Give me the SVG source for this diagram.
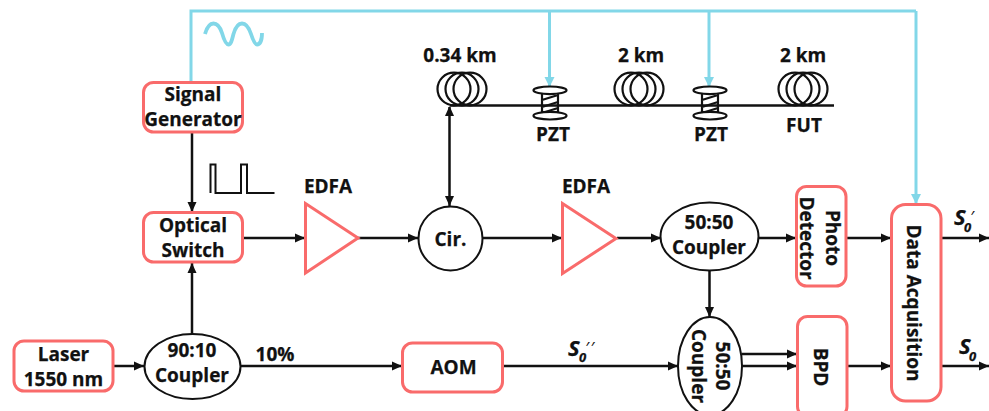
<svg xmlns="http://www.w3.org/2000/svg" width="989" height="411" viewBox="0 0 989 411">
<style>
text{font-family:"Open Sans","Liberation Sans",sans-serif;font-weight:700;font-size:19px;fill:#111;stroke:#111;stroke-width:.25;text-anchor:middle}
.box{fill:#fff;stroke:#f96b6b;stroke-width:3}
.circ{fill:#fff;stroke:#111;stroke-width:2}
.ln{fill:none;stroke:#111;stroke-width:2.5}
.arr{marker-end:url(#a)}
.blue{fill:none;stroke:#82d7e8;stroke-width:3}
.coil{fill:none;stroke:#111;stroke-width:2.2}
.sub{font-style:italic;font-size:13px;text-anchor:start}
.s{font-style:italic;font-size:22px;text-anchor:start}
.pr{font-style:italic;font-size:17px;font-weight:400;stroke:none;text-anchor:start;letter-spacing:1.5px}
</style>
<defs>
<marker id="a" markerUnits="userSpaceOnUse" markerWidth="11" markerHeight="11" refX="10" refY="5.500" orient="auto"><path d="M0 1L10 5.500L0 10z" fill="#111"/></marker>
<marker id="as" markerUnits="userSpaceOnUse" markerWidth="11" markerHeight="11" refX="1" refY="5.500" orient="auto"><path d="M10 1L0 5.500L10 10z" fill="#111"/></marker>
<marker id="b" markerUnits="userSpaceOnUse" markerWidth="11" markerHeight="11" refX="10" refY="5.500" orient="auto"><path d="M0 0.500L10 5.500L0 10.500z" fill="#82d7e8"/></marker>
<g id="coilshape" class="coil"><ellipse cx="-8" cy="0" rx="16.500" ry="16.300"/><ellipse cx="0" cy="0" rx="16.500" ry="16.300"/><ellipse cx="8" cy="0" rx="16.500" ry="16.300"/></g>
<g id="spool"><path d="M-8-9V9.500M8-9V9.500M-8-3L8-8M-8 4L8-1M-8 10L8 5" fill="none" stroke="#111" stroke-width="2.200"/><ellipse cx="0" cy="-12.700" rx="16.500" ry="3.800" fill="#fff" stroke="#111" stroke-width="2.200"/><ellipse cx="0" cy="12.700" rx="16.500" ry="3.800" fill="#fff" stroke="#111" stroke-width="2.200"/></g>
</defs>
<g id="connectors">
<path class="blue" d="M191 82V11H916"/>
<path class="blue" d="M549.500 11V87" marker-end="url(#b)"/>
<path class="blue" d="M709 11V87" marker-end="url(#b)"/>
<path class="blue" d="M916 11V204" marker-end="url(#b)"/>
<path class="ln arr" d="M192 132V212"/>
<path class="ln arr" d="M192 334V263"/>
<path class="ln arr" d="M113 366H144"/>
<path class="ln arr" d="M241 366H402"/>
<path class="ln arr" d="M503 366H678"/>
<path class="ln arr" d="M243 238H305"/>
<path class="ln arr" d="M358 238H418"/>
<path class="ln arr" d="M483 238H562"/>
<path class="ln arr" d="M617 238H661"/>
<path class="ln arr" d="M759 238H796"/>
<path class="ln arr" d="M846 238H891"/>
<path class="ln arr" d="M941 238H989"/>
<path class="ln arr" d="M847 366H891"/>
<path class="ln arr" d="M941 366H989"/>
<path class="ln arr" d="M742 354H797"/>
<path class="ln arr" d="M742 366H797"/>
<path class="ln arr" d="M709.500 270V317"/>
<path class="ln arr" d="M449.500 107V206" marker-start="url(#as)"/>
<path class="ln" d="M450 105.500H834"/>
</g>
<g id="sine"><path class="blue" style="stroke-width:3.800" d="M205 34C207 27 210 23.500 213.500 23.500C217 23.500 220 27 222 33C224 40 226 44.500 228.500 44.500C231 44.500 232 40 233.500 34C235.500 27 238 23.500 242 23.500C246 23.500 249 28 251 34C253 40 255 44.500 257 44.500C260 44.500 262 40 262 33"/></g>
<g id="pulse"><path fill="none" stroke="#111" stroke-width="2" d="M210.500 193V164.500H215.500V193H241V164.500H247V193H274.500"/></g>
<g id="signal-generator"><rect class="box" x="143.500" y="82.500" width="99" height="49.500" rx="10"/><text x="193" y="101">Signal</text><text x="193" y="126">Generator</text></g>
<g id="optical-switch"><rect class="box" x="143.500" y="212.500" width="99" height="49.500" rx="10"/><text x="193" y="232">Optical</text><text x="193" y="257">Switch</text></g>
<g id="laser"><rect class="box" x="14" y="341" width="99" height="50" rx="10"/><text x="63.500" y="361">Laser</text><text x="63.500" y="386">1550 nm</text></g>
<g id="coupler-90-10"><ellipse class="circ" cx="192.500" cy="366.500" rx="48" ry="32.500"/><text x="192" y="357">90:10</text><text x="192" y="382">Coupler</text></g>
<g id="edfa1"><path class="box" d="M305.500 203.500V273L358 238z"/><text x="328" y="193">EDFA</text></g>
<g id="circulator"><circle class="circ" cx="450.500" cy="238.500" r="32"/><text x="450.500" y="246">Cir.</text></g>
<g id="aom"><rect class="box" x="402.500" y="343" width="100" height="49" rx="10"/><text x="453.500" y="374">AOM</text></g>
<g id="edfa2"><path class="box" d="M562.500 203.500V273.500L616 238.500z"/><text x="586" y="193">EDFA</text></g>
<g id="coupler-top"><ellipse class="circ" cx="709.500" cy="236.500" rx="49" ry="34"/><text x="709" y="229">50:50</text><text x="709" y="254">Coupler</text></g>
<g id="coupler-bottom"><ellipse class="circ" cx="710" cy="366" rx="32" ry="49"/><text transform="translate(716 366) rotate(90)">50:50</text><text transform="translate(692 366) rotate(90)">Coupler</text></g>
<g id="photo-detector"><rect class="box" x="796.500" y="186.500" width="49.500" height="99.500" rx="10"/><text transform="translate(826 238) rotate(90)">Photo</text><text transform="translate(800 238) rotate(90)">Detector</text></g>
<g id="bpd"><rect class="box" x="797.500" y="316.500" width="49.500" height="100" rx="10"/><text transform="translate(814 367) rotate(90)">BPD</text></g>
<g id="data-acquisition"><rect class="box" x="891.500" y="204.500" width="49.500" height="196.500" rx="14"/><text transform="translate(907 303) rotate(90)">Data Acquisition</text></g>
<g id="coil1"><use href="#coilshape" x="462" y="89"/><text x="460" y="62">0.34 km</text></g>
<g id="coil2"><use href="#coilshape" x="639" y="89"/><text x="641" y="62">2 km</text></g>
<g id="coil3"><use href="#coilshape" x="803" y="89"/><text x="803" y="62">2 km</text></g>
<text x="804" y="132">FUT</text>
<g id="pzt1"><use href="#spool" x="550" y="103"/><text x="553" y="141">PZT</text></g>
<g id="pzt2"><use href="#spool" x="710" y="103"/><text x="711" y="141">PZT</text></g>
<g id="labels">
<text x="275" y="361">10%</text>
<text class="s" x="568" y="356">S</text><text class="sub" x="579" y="362">0</text><text class="pr" x="585" y="354">′′</text>
<text class="s" x="954" y="225">S</text><text class="sub" x="964" y="232">0</text><text class="pr" x="970" y="223">′</text>
<text class="s" x="959" y="354">S</text><text class="sub" x="969" y="361">0</text>
</g>
</svg>
